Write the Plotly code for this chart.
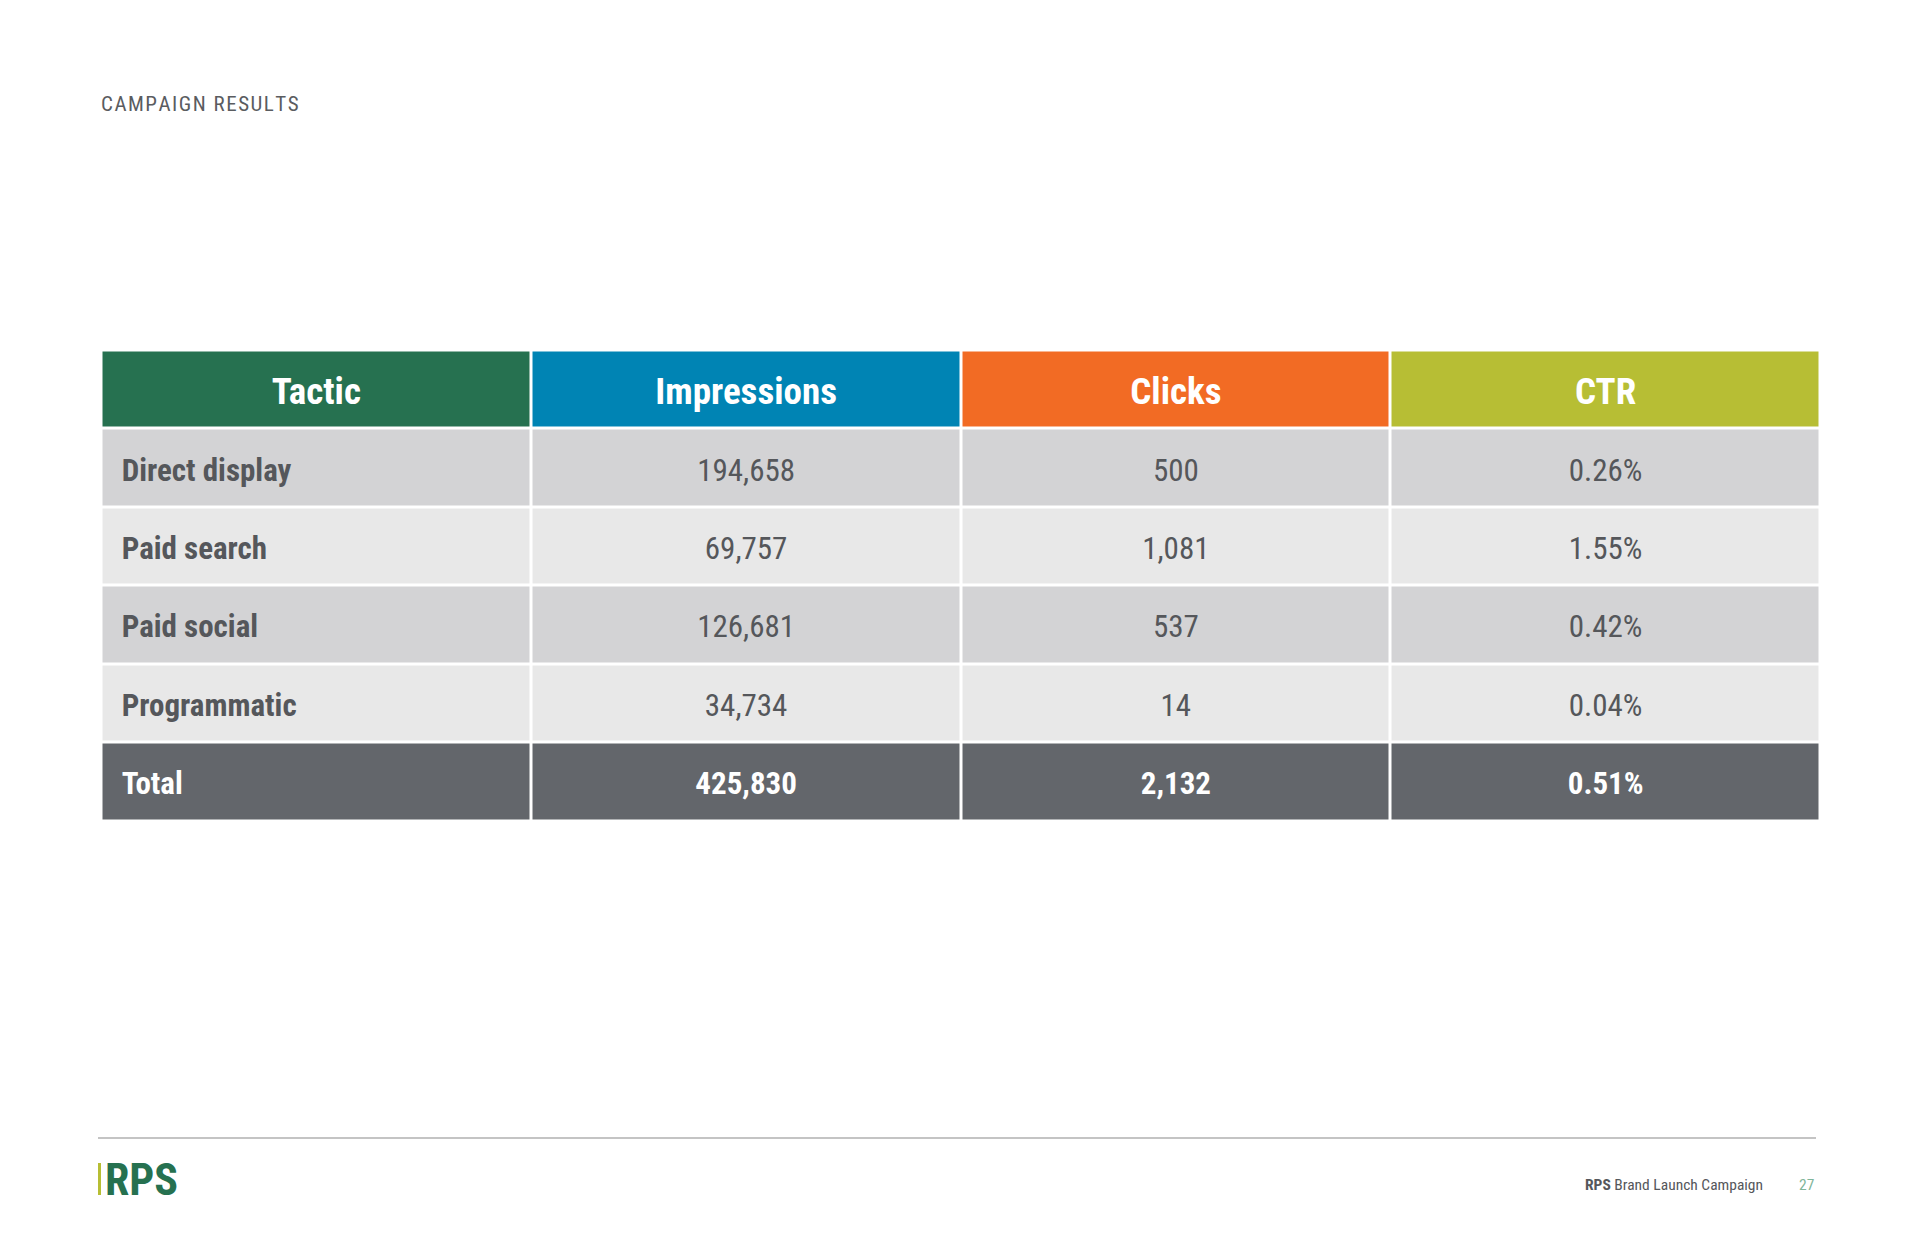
import plotly.graph_objects as go

# table data
columns = ["Tactic", "Impressions", "Clicks", "CTR"]
tactics = ["Direct display", "Paid search", "Paid social", "Programmatic", "Total"]
impressions = [194658, 69757, 126681, 34734, 425830]
clicks = [500, 1081, 537, 14, 2132]
ctr = [0.26, 1.55, 0.42, 0.04, 0.51]

header_colors = ["#267150", "#0084b4", "#f26b24", "#b7be34"]
band_colors = ["#d3d3d5", "#e8e8e8"]
total_color = "#63666b"
text_dark = "#55575b"

FONT = "Roboto Condensed, Liberation Sans Narrow, DejaVu Sans Condensed, Roboto, sans-serif"

# page is 1920x1242, the browser puts the figure 8px in from the corner
OFF = 8
W, H = 1920 - 2 * OFF, 1242 - 2 * OFF


def px(x):
    return (x - OFF) / W


def py(y):
    return 1 - (y - OFF) / H


n_rows = len(tactics)
n_cols = len(columns)

# cell fill -> colour code, row 0 is the header
palette = header_colors + band_colors + [total_color]
z = [list(range(n_cols))]
for i in range(n_rows):
    code = 6 if i == n_rows - 1 else 4 + (i % 2)
    z.append([code] * n_cols)

k = len(palette)
colorscale = []
for i, c in enumerate(palette):
    colorscale.append([i / k, c])
    colorscale.append([(i + 1) / k, c])

# plotly's "middle" sits the text a touch high, nudge it down a bit
NUDGE = 0.06

fig = go.Figure()
fig.add_trace(go.Heatmap(
    z=z, x=list(range(n_cols)), y=list(range(n_rows + 1)),
    colorscale=colorscale, zmin=-0.5, zmax=k - 0.5, showscale=False,
    xgap=3, ygap=3, hoverinfo="skip",
))

# header labels
fig.add_trace(go.Scatter(
    x=list(range(n_cols)), y=[NUDGE] * n_cols, mode="text",
    text=["<b>" + c + "</b>" for c in columns], textposition="middle center",
    textfont=dict(family=FONT, size=37, color="white"),
    hoverinfo="skip", showlegend=False,
))

# tactic column, left aligned
row_y = [r + NUDGE for r in range(1, n_rows + 1)]
row_colors = [text_dark] * (n_rows - 1) + ["white"]
fig.add_trace(go.Scatter(
    x=[-0.5 + 0.047] * n_rows, y=row_y, mode="text",
    text=["<b>" + t + "</b>" for t in tactics], textposition="middle right",
    textfont=dict(family=FONT, size=31, color=row_colors),
    hoverinfo="skip", showlegend=False,
))

# numeric columns
value_cols = [
    [f"{v:,}" for v in impressions],
    [f"{v:,}" for v in clicks],
    [f"{v:.2f}%" for v in ctr],
]
for j, vals in enumerate(value_cols, start=1):
    labels = vals[:-1] + ["<b>" + vals[-1] + "</b>"]
    fig.add_trace(go.Scatter(
        x=[j] * n_rows, y=row_y, mode="text",
        text=labels, textposition="middle center",
        textfont=dict(family=FONT, size=31, color=row_colors),
        hoverinfo="skip", showlegend=False,
    ))

# page title, small hair spaces give the letter spacing
gap = "<span style='font-size:14px'>\u200a</span>"
title = gap.join("CAMPAIGN RESULTS")
fig.add_annotation(
    text=title, xref="paper", yref="paper",
    x=px(99), y=py(103.5), xanchor="left", yanchor="middle", showarrow=False,
    font=dict(family=FONT, size=21, color="#5a5c60"),
)

# footer rule
fig.add_shape(type="line", xref="paper", yref="paper",
              x0=px(98), x1=px(1816), y0=py(1138), y1=py(1138),
              line=dict(color="#b0b0b0", width=1.5))

# logo
fig.add_shape(type="line", xref="paper", yref="paper",
              x0=px(99.5), x1=px(99.5), y0=py(1195), y1=py(1163),
              line=dict(color="#b7be34", width=3))
fig.add_annotation(
    text="<b>RPS</b>", xref="paper", yref="paper",
    x=px(103), y=py(1180), xanchor="left", yanchor="middle", showarrow=False,
    font=dict(family=FONT, size=44, color="#267150"),
)

# footer text
fig.add_annotation(
    text="<b>RPS</b> Brand Launch Campaign", xref="paper", yref="paper",
    x=px(1765), y=py(1185), xanchor="right", yanchor="middle", showarrow=False,
    font=dict(family=FONT, size=15.5, color=text_dark),
)
fig.add_annotation(
    text="27", xref="paper", yref="paper",
    x=px(1816), y=py(1185), xanchor="right", yanchor="middle", showarrow=False,
    font=dict(family=FONT, size=15.5, color="#7fb59a"),
)

fig.update_layout(
    width=W, height=H,
    margin=dict(l=0, r=0, t=0, b=0),
    paper_bgcolor="white", plot_bgcolor="white",
    xaxis=dict(domain=[px(101.5), px(1820.5)], range=[-0.5, n_cols - 0.5],
               visible=False, fixedrange=True),
    yaxis=dict(domain=[py(821), py(350.5)], range=[n_rows + 0.5, -0.5],
               visible=False, fixedrange=True),
)

fig.write_html("out.html")
